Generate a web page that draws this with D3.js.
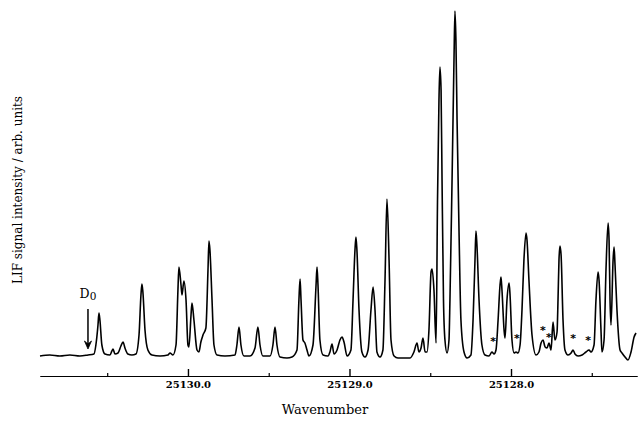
<!DOCTYPE html>
<html><head><meta charset="utf-8">
<script src="https://cdn.jsdelivr.net/npm/d3@7"></script>
<style>
html,body{margin:0;padding:0;background:#fff;}
svg{display:block;}
</style></head>
<body>
<svg id="chart" width="639" height="421"></svg>
<script>
// Spectrum trace (wavenumber in cm^-1, LIF intensity in arb. units)
const wavenumber = [
25130.916,25130.855,25130.793,25130.731,25130.669,25130.619,25130.582,25130.570,25130.557,25130.551,
25130.545,25130.533,25130.514,25130.483,25130.471,25130.464,25130.452,25130.433,25130.415,25130.402,
25130.390,25130.372,25130.347,25130.322,25130.303,25130.291,25130.285,25130.279,25130.266,25130.248,
25130.223,25130.173,25130.124,25130.111,25130.093,25130.074,25130.062,25130.056,25130.043,25130.037,
25130.025,25130.012,25130.000,25129.994,25129.981,25129.975,25129.963,25129.944,25129.932,25129.920,
25129.907,25129.889,25129.876,25129.870,25129.864,25129.851,25129.839,25129.820,25129.771,25129.709,
25129.697,25129.684,25129.672,25129.653,25129.616,25129.585,25129.567,25129.554,25129.536,25129.492,
25129.474,25129.461,25129.449,25129.430,25129.387,25129.356,25129.325,25129.313,25129.306,25129.300,
25129.288,25129.276,25129.263,25129.251,25129.226,25129.207,25129.201,25129.195,25129.183,25129.164,
25129.133,25129.121,25129.108,25129.096,25129.077,25129.059,25129.046,25129.034,25129.015,25128.991,
25128.978,25128.966,25128.960,25128.954,25128.941,25128.923,25128.904,25128.885,25128.867,25128.854,
25128.842,25128.830,25128.811,25128.793,25128.780,25128.768,25128.755,25128.743,25128.724,25128.700,
25128.656,25128.625,25128.601,25128.582,25128.570,25128.557,25128.545,25128.532,25128.520,25128.508,
25128.495,25128.489,25128.477,25128.464,25128.455,25128.446,25128.440,25128.433,25128.427,25128.418,
25128.409,25128.396,25128.384,25128.378,25128.365,25128.353,25128.347,25128.341,25128.334,25128.322,
25128.310,25128.291,25128.272,25128.248,25128.235,25128.223,25128.217,25128.211,25128.198,25128.180,
25128.161,25128.136,25128.118,25128.105,25128.093,25128.080,25128.068,25128.062,25128.056,25128.043,
25128.037,25128.025,25128.012,25128.006,25127.994,25127.981,25127.969,25127.957,25127.944,25127.932,
25127.920,25127.907,25127.901,25127.889,25127.870,25127.845,25127.827,25127.814,25127.802,25127.789,
25127.777,25127.765,25127.752,25127.740,25127.728,25127.715,25127.709,25127.703,25127.697,25127.690,
25127.678,25127.666,25127.647,25127.628,25127.616,25127.604,25127.585,25127.560,25127.536,25127.517,
25127.505,25127.486,25127.474,25127.461,25127.455,25127.443,25127.437,25127.424,25127.412,25127.399,
25127.393,25127.387,25127.381,25127.368,25127.362,25127.356,25127.344,25127.325,25127.313,25127.294,
25127.276,25127.257,25127.238,25127.226
];
const intensity = [
1,2,1,2,1,2,3,12,32,44,
37,12,3,2,6,8,3,4,11,15,
9,3,2,3,22,62,73,65,27,7,
2,1,2,4,2,12,67,90,72,62,
76,57,12,10,42,54,37,7,5,15,
22,29,87,116,107,57,12,2,1,2,
12,30,12,1,1,9,30,12,1,1,
12,30,12,0,-1,0,7,57,78,57,
17,14,7,1,12,72,90,72,17,2,
1,5,13,3,7,17,20,15,1,7,
57,107,120,107,47,5,0,7,47,70,
47,5,0,7,77,158,97,17,1,-1,
-1,-1,5,14,5,9,19,5,5,27,
85,88,67,14,157,257,290,267,177,57,
17,4,17,57,177,297,346,317,237,127,
37,5,-1,2,37,97,126,112,57,12,
2,1,5,3,7,37,72,80,67,27,
19,57,74,62,17,4,5,4,12,47,
97,124,117,77,22,2,5,14,17,10,
9,14,7,35,17,25,57,97,111,102,
37,7,2,4,7,3,1,2,5,7,
5,12,57,85,77,27,5,17,87,134,
117,57,32,97,110,92,47,7,4,0,
-3,5,20,24
];

// Axis ticks
const tickValues = [25130.5, 25130.0, 25129.5, 25129.0, 25128.5, 25128.0, 25127.5];
const majorTicks = [25130.0, 25129.0, 25128.0];

// Starred lines
const starWavenumber = [25128.111, 25127.963, 25127.802, 25127.765, 25127.616, 25127.523];
const starIntensity = [19, 22, 30, 23, 22, 20];

// D0 marker
const d0Wavenumber = [25130.619];
const d0Arrow = [48, 8]; // from, to (intensity)
const d0LabelIntensity = [59];

const xLabel = "Wavenumber";
const yLabel = "LIF signal intensity / arb. units";

const svg = d3.select("#chart");
const x = d3.scaleLinear().domain([25130.916, 25127.220]).range([40, 637]);
const y = d3.scaleLinear().domain([0, 350]).range([357, 7]);
const axisY = 376;

const pts = wavenumber.map((w, i) => [w, intensity[i]]);
const line = d3.line().x(d => x(d[0])).y(d => y(d[1])).curve(d3.curveMonotoneX);

svg.append("path").datum(pts)
  .attr("d", line)
  .attr("fill", "none")
  .attr("stroke", "#000")
  .attr("stroke-width", 1.6)
  .attr("stroke-linejoin", "round");

// minor ticks
svg.append("g").attr("transform", `translate(0,${axisY})`)
  .call(d3.axisBottom(x).tickValues(tickValues.filter(t => !majorTicks.includes(t)))
    .tickSizeInner(-3).tickSizeOuter(0).tickFormat(""))
  .call(g => g.selectAll("path,line").attr("stroke", "#000").attr("stroke-width", 1.2));

// major ticks with labels
svg.append("g").attr("transform", `translate(0,${axisY})`)
  .call(d3.axisBottom(x).tickValues(majorTicks)
    .tickSizeInner(-7).tickSizeOuter(0).tickPadding(5).tickFormat(d3.format(".1f")))
  .call(g => g.select(".domain").attr("stroke", "#000").attr("stroke-width", 1.2))
  .call(g => g.selectAll(".tick line").attr("stroke", "#000").attr("stroke-width", 1.4))
  .call(g => g.selectAll("text").attr("fill", "#000")
    .attr("font-family", "DejaVu Serif").attr("font-size", 10).attr("font-weight", "bold"));

// axis titles
svg.append("text").attr("x", 325).attr("y", 414)
  .attr("text-anchor", "middle").attr("font-family", "DejaVu Serif").attr("font-size", 13)
  .attr("fill", "#000").text(xLabel);

svg.append("text").attr("transform", "translate(22,190) rotate(-90)")
  .attr("text-anchor", "middle").attr("font-family", "DejaVu Serif").attr("font-size", 12)
  .attr("fill", "#000").text(yLabel);

// stars
svg.selectAll("text.star").data(starWavenumber).enter().append("text")
  .attr("class", "star")
  .attr("x", (d) => x(d)).attr("y", (d, i) => y(starIntensity[i]))
  .attr("dy", "0.62em")
  .attr("text-anchor", "middle").attr("font-family", "DejaVu Sans").attr("font-size", 11)
  .attr("font-weight", "bold").attr("fill", "#000")
  .text("*");

// D0 arrow
const ax = x(d0Wavenumber[0]);
const y0 = y(d0Arrow[0]), y1 = y(d0Arrow[1]);
svg.append("line").attr("x1", ax).attr("x2", ax).attr("y1", y0).attr("y2", y1 - 2)
  .attr("stroke", "#000").attr("stroke-width", 1.5);
svg.append("path")
  .attr("d", `M${ax - 3.5},${y1 - 8} L${ax},${y1} L${ax + 3.5},${y1 - 8} L${ax},${y1 - 5} Z`)
  .attr("fill", "#000").attr("stroke", "#000").attr("stroke-width", 0.8);
const lbl = svg.append("text").attr("x", ax).attr("y", y(d0LabelIntensity[0]))
  .attr("text-anchor", "middle").attr("font-family", "DejaVu Serif").attr("font-size", 12.5)
  .attr("fill", "#000");
lbl.append("tspan").text("D");
lbl.append("tspan").attr("font-size", 10.5).attr("dy", 2).text("0");
</script>
</body></html>
